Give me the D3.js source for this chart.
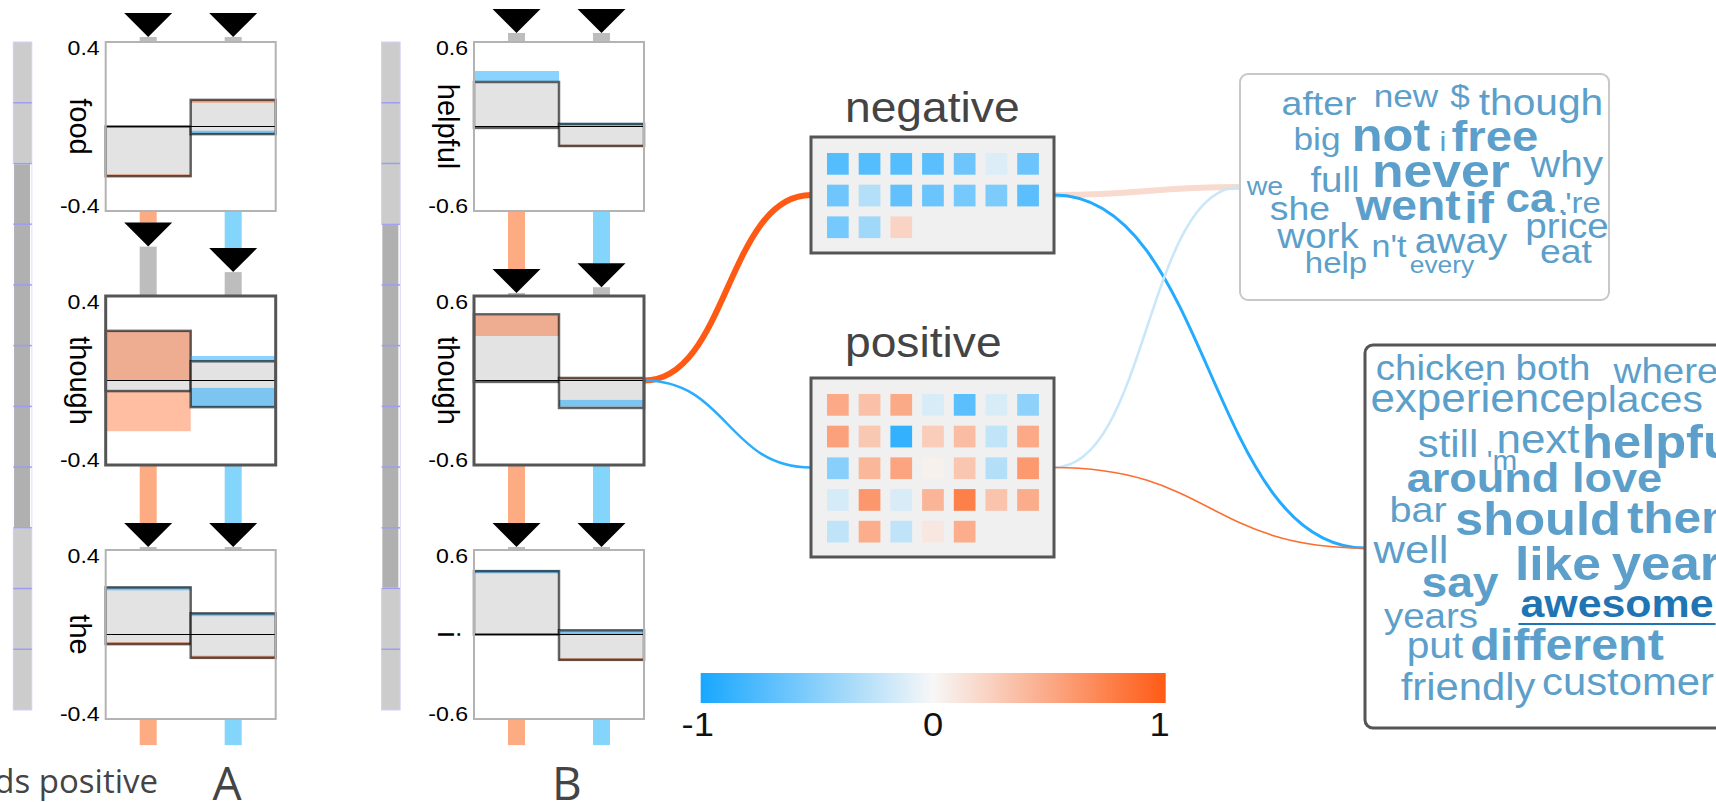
<!DOCTYPE html>
<html>
<head>
<meta charset="utf-8">
<script src="https://cdn.jsdelivr.net/npm/d3@7"></script>
<style>
    body { margin: 0; background: #fff; }
    svg { display: block; }
    text { font-family: "Liberation Sans", Arial, sans-serif; }
</style>
</head>
<body>
<svg id="wrapper"></svg>
<script>
// ---- data ----
const panels = ['A', 'B']
const panelWords = [['food', 'though', 'the'], ['helpful', 'though', 'i']]
const panelExtent = [0.4, 0.6]
const activeRow = 1
const sentenceLength = 11
const windowStart = [2, 3]
const windowSize = 6

// [lo, hi] of the grey bar, per panel / row / column
const barRanges = [
    [[[-0.235, 0], [-0.036, 0.126]], [[-0.05, 0.235], [-0.126, 0.091]], [[-0.045, 0.223], [-0.11, 0.1]]],
    [[[-0.01, 0.316], [-0.138, 0.018]], [[-0.01, 0.47], [-0.195, 0.018]], [[0, 0.45], [-0.18, 0.03]]],
]
// coloured bands [lo, hi, sign] (+1 orange, -1 blue)
const barBands = [
    [
        [[[-0.24, -0.226, 1]], [[0.112, 0.128, 1], [-0.038, -0.02, -1]]],
        [[[0, 0.235, 1], [-0.24, -0.05, 1]], [[0.091, 0.116, -1], [-0.126, -0.035, -1]]],
        [[[0.209, 0.226, -1], [-0.052, -0.036, 1]], [[0.087, 0.103, -1], [-0.117, -0.1, 1]]],
    ],
    [
        [[[0.322, 0.394, -1]], [[0.006, 0.026, -1], [-0.147, -0.13, 1]]],
        [[[0.316, 0.46, 1]], [[0.004, 0.022, 1], [-0.185, -0.138, -1]]],
        [[[0.434, 0.458, -1]], [[0, 0.028, -1], [-0.188, -0.168, 1]]],
    ],
]
// gate strength below each box (left, right)
const gateValues = [
    [[0.2, 0.64], [1, 1], [0.45, 0.45]],
    [[1, 0.9], [1, 1], [0.45, 0.45]],
]
const topGap = [5, 9]

const clusterNames = ['negative', 'positive']
const negativeCells = [
    -0.73, -0.73, -0.73, -0.70, -0.62, -0.12, -0.63,
    -0.61, -0.30, -0.67, -0.63, -0.58, -0.55, -0.70,
    -0.58, -0.39, 0.22,
]
const positiveCells = [
    0.50, 0.35, 0.49, -0.14, -0.70, -0.14, -0.47,
    0.54, 0.30, -0.875, 0.27, 0.37, -0.24, 0.50,
    -0.50, 0.41, 0.53, 0.04, 0.31, -0.30, 0.60,
    -0.15, 0.61, -0.14, 0.42, 0.76, 0.33, 0.48,
    -0.25, 0.47, -0.25, 0.10, 0.47,
]
const colorTicks = [-1, 0, 1]

// links: value drives colour
const links = [
    { from: 'word', to: 'negative', value: 1.0, width: 6 },
    { from: 'word', to: 'positive', value: -0.92, width: 2.5 },
    { from: 'negative', to: 'cloudNeg', value: 0.18, width: 6 },
    { from: 'negative', to: 'cloudPos', value: -0.95, width: 3 },
    { from: 'positive', to: 'cloudNeg', value: -0.2, width: 2.5 },
    { from: 'positive', to: 'cloudPos', value: 0.88, width: 1.6 },
]

const negWords = ['after', 'new', '$', 'though', 'big', 'not', 'i', 'free', 'never', 'why', 'full', 'we', 'she',
    'went', 'if', 'ca', '.', "'re", 'price', 'work', "n't", 'away', 'eat', 'help', 'every']
const negSizes = [34, 32, 32, 37, 32, 46, 28, 43, 47, 37, 35, 26, 34, 42, 44, 40, 28, 30, 35, 35, 31, 36, 34, 30, 24]
const negBold = ['not', 'free', 'never', 'went', 'if', 'ca']

const posWords = ['chicken', 'both', 'where', 'experience', 'places', 'still', "'m", 'next', 'helpful', 'around',
    'love', 'bar', 'should', 'them', 'well', 'like', 'year', 'say', 'awesome', 'years', 'put', 'different',
    'friendly', 'customer']
const posSizes = [35, 35, 35, 40, 37, 38, 27, 40, 46, 41, 41, 36, 46, 45, 39.5, 47, 48, 42, 39, 35, 37, 44, 38, 38]
const posBold = ['helpful', 'around', 'love', 'should', 'them', 'like', 'year', 'say', 'awesome', 'different']
const highlightWord = 'awesome'

// ---- layout ----
const dimensions = { width: 1716, height: 802 }
const stretch = 1.1
const panelShift = 368.3
const box = { left: 105.7, width: 170, height: 169 }
const stem = { width: 17, tri: 48, triH: 24 }

// word cloud placements (centre x, baseline) relative to each cloud box
const negLayout = [[79, 41], [166, 33], [220, 33], [301, 41], [77, 76], [151, 77], [203, 77], [255, 77],
    [201, 113], [327, 103], [95, 118], [25, 121], [60, 146], [168, 146], [239, 149], [290, 138], [322, 139],
    [343, 139], [327, 164], [78, 174], [149, 183], [221, 179], [326, 189], [96, 199], [202, 199]]
const posLayout = [[76, 35], [188, 35], [301, 38], [113, 67], [279, 67], [83, 112], [137, 125], [173, 108],
    [300, 113], [118, 147], [252, 147], [53, 177], [173, 190], [321, 188], [46, 218], [193, 235], [301, 235],
    [95, 252], [252, 272], [66, 283], [70, 313], [202, 315], [103, 355], [263, 350]]

const svg = d3.select('#wrapper')
    .attr('width', dimensions.width)
    .attr('height', dimensions.height)

const color = d3.scaleLinear()
    .domain([-1, 0, 1])
    .range(['#18a7ff', '#f7f7f7', '#ff5a14'])

// plain hyphen instead of d3's unicode minus, as in the figure
const fmt1 = v => d3.format('.1f')(v).replace('\u2212', '-')
const fmt0 = v => d3.format('d')(v).replace('\u2212', '-')

const addText = (sel, x, y, txt, size) => sel.append('text')
    .attr('transform', `translate(${x},${y}) scale(${stretch},1)`)
    .attr('font-size', size)
    .text(txt)

// node anchor points (box sides)
const matrixBox = {
    negative: { x: 811, y: 137, w: 243, h: 116, rows: 3, titleY: 122 },
    positive: { x: 811, y: 378, w: 243, h: 179, rows: 5, titleY: 357 },
}
const cloudBox = {
    cloudNeg: { x: 1240, y: 74, w: 369, h: 226, stroke: '#c8c8c8', sw: 2, anchorY: 187 },
    cloudPos: { x: 1365, y: 345, w: 400, h: 383, stroke: '#555', sw: 3, anchorY: 548 },
}
const rowTop = d3.scaleLinear().domain([0, 2]).range([42, 550])
const activeBoxRight = box.left + panelShift + box.width
const activeBoxMid = rowTop(activeRow) + box.height / 2

const anchorOut = name => name === 'word'
    ? [activeBoxRight, activeBoxMid]
    : [matrixBox[name].x + matrixBox[name].w, matrixBox[name].y + matrixBox[name].h / 2]
const anchorIn = name => matrixBox[name]
    ? [matrixBox[name].x, matrixBox[name].y + matrixBox[name].h / 2]
    : [cloudBox[name].x, cloudBox[name].anchorY]

// 1. links
const linkGen = d3.linkHorizontal()
svg.append('g').attr('class', 'links')
    .selectAll('path')
    .data(links)
    .join('path')
    .attr('d', d => linkGen({ source: anchorOut(d.from), target: anchorIn(d.to) }))
    .attr('fill', 'none')
    .attr('stroke', d => color(d.value))
    .attr('stroke-width', d => d.width)

// 2. sentence panels
const gateScale = d3.scaleLinear().domain([0, 1]).range([0, 58])
const stemColors = ['#fdab82', '#84d5fb']

panels.forEach((name, p) => {
    const px = p * panelShift
    const boxX = box.left + px
    const ext = panelExtent[p]
    const panel = svg.append('g').attr('class', 'panel')
    const colScale = d3.scaleBand().domain([0, 1]).range([boxX, boxX + box.width])
    const cx = c => colScale(c) + colScale.bandwidth() / 2

    // scroll bar of the sentence
    const sb = d3.scaleLinear().domain([0, sentenceLength]).range([42, 710])
    const sbX = 13.3 + px, sbW = 18.5
    panel.append('rect')
        .attr('x', sbX).attr('y', sb(0))
        .attr('width', sbW).attr('height', sb(sentenceLength) - sb(0))
        .attr('fill', '#cccccc').attr('stroke', '#cfcfff').attr('stroke-width', 1)
    panel.append('rect')
        .attr('x', sbX).attr('y', sb(windowStart[p]))
        .attr('width', sbW - 1).attr('height', sb(windowStart[p] + windowSize) - sb(windowStart[p]))
        .attr('fill', '#b0b0b0').attr('stroke', '#fff').attr('stroke-width', 1.5)
    panel.append('g').selectAll('line')
        .data(d3.range(1, sentenceLength))
        .join('line')
        .attr('x1', sbX).attr('x2', sbX + sbW)
        .attr('y1', d => sb(d)).attr('y2', d => sb(d))
        .attr('stroke', '#9d9df0').attr('stroke-width', 1.5)

    // stems and gate arrows
    const tri = (x, y) => `M${x - stem.tri / 2},${y}L${x + stem.tri / 2},${y}L${x},${y + stem.triH}Z`
    const stems = panel.append('g')
    const arrows = panel.append('g')
    ;[0, 1].forEach(c => {
        const x = cx(c) - stem.width / 2
        // above the first box
        const tip = rowTop(0) - topGap[p]
        stems.append('rect').attr('x', x).attr('y', tip).attr('width', stem.width)
            .attr('height', topGap[p]).attr('fill', '#bdbdbd')
        arrows.append('path').attr('d', tri(cx(c), tip - stem.triH)).attr('fill', '#000')
        gateValues[p].forEach((gv, r) => {
            const bottom = rowTop(r) + box.height
            const len = gateScale(gv[c])
            stems.append('rect').attr('x', x).attr('y', bottom).attr('width', stem.width)
                .attr('height', len).attr('fill', stemColors[c])
            if (r < 2) {
                const triTop = bottom + len
                arrows.append('path').attr('d', tri(cx(c), triTop)).attr('fill', '#000')
                stems.append('rect').attr('x', x).attr('y', triTop + stem.triH).attr('width', stem.width)
                    .attr('height', rowTop(r + 1) - triTop - stem.triH).attr('fill', '#bdbdbd')
            }
        })
    })

    // boxes
    panelWords[p].forEach((word, r) => {
        const top = rowTop(r)
        const bottom = top + box.height
        const y = d3.scaleLinear().domain([-ext, ext]).range([bottom, top])
        const g = panel.append('g')
        g.append('rect').attr('x', boxX).attr('y', top)
            .attr('width', box.width).attr('height', box.height).attr('fill', '#fff')
        ;[0, 1].forEach(c => {
            const [lo, hi] = barRanges[p][r][c]
            g.append('rect')
                .attr('x', colScale(c)).attr('y', y(hi))
                .attr('width', colScale.bandwidth()).attr('height', y(lo) - y(hi))
                .attr('fill', '#e3e3e3')
            g.selectAll(null)
                .data(barBands[p][r][c])
                .join('rect')
                .attr('x', colScale(c)).attr('y', d => y(d[1]))
                .attr('width', colScale.bandwidth()).attr('height', d => y(d[0]) - y(d[1]))
                .attr('fill', d => d[2] > 0 ? '#ff5a14' : '#18a7ff')
                .attr('fill-opacity', d => d[2] > 0 ? 0.4 : 0.5)
            g.append('rect')
                .attr('x', colScale(c)).attr('y', y(hi))
                .attr('width', colScale.bandwidth()).attr('height', y(lo) - y(hi))
                .attr('fill', 'none').attr('stroke', '#000')
                .attr('stroke-opacity', 0.6).attr('stroke-width', 2.5)
        })
        g.append('line')
            .attr('x1', boxX).attr('x2', boxX + box.width)
            .attr('y1', y(0)).attr('y2', y(0))
            .attr('stroke', '#000').attr('stroke-width', 1)
        const active = r === activeRow
        g.append('rect').attr('x', boxX).attr('y', top)
            .attr('width', box.width).attr('height', box.height)
            .attr('fill', 'none')
            .attr('stroke', active ? '#555' : '#b3b3b3')
            .attr('stroke-width', active ? 3 : 2)

        addText(g, boxX - 6, y(ext) + 13, fmt1(ext), 21).attr('text-anchor', 'end')
        addText(g, boxX - 6, y(-ext) + 2, fmt1(-ext), 21).attr('text-anchor', 'end')
        g.append('text')
            .attr('transform', `translate(${boxX - 36},${y(0)}) rotate(90)`)
            .attr('text-anchor', 'middle')
            .attr('font-size', 29)
            .text(word)
    })

    svg.append('text')
        .attr('x', 227 + px * 0.923).attr('y', 800)
        .attr('text-anchor', 'middle')
        .style('font-family', '"Open Sans", "Noto Sans", sans-serif')
        .attr('font-size', 46).attr('fill', '#444')
        .text(name)
})

svg.append('text')
    .attr('x', 158).attr('y', 793)
    .attr('text-anchor', 'end')
    .style('font-family', '"Open Sans", "Noto Sans", sans-serif')
    .attr('font-size', 33).attr('fill', '#444')
    .text('towards positive')

// 3. cluster matrices
const cellData = { negative: negativeCells, positive: positiveCells }
clusterNames.forEach(name => {
    const m = matrixBox[name]
    const g = svg.append('g')
    addText(g, 845, m.titleY, name, 42).attr('fill', '#444')
    g.append('rect').attr('x', m.x).attr('y', m.y).attr('width', m.w).attr('height', m.h)
        .attr('fill', '#f0f0f0').attr('stroke', '#555').attr('stroke-width', 3)
    const xs = d3.scaleBand().domain(d3.range(7)).range([m.x + 11, m.x + 11 + 7 * 31.7])
        .paddingInner(0.315).paddingOuter(0.1575)
    const ys = d3.scaleBand().domain(d3.range(m.rows)).range([m.y + 11, m.y + 11 + m.rows * 31.7])
        .paddingInner(0.315).paddingOuter(0.1575)
    g.selectAll('rect.cell')
        .data(cellData[name])
        .join('rect')
        .attr('class', 'cell')
        .attr('x', (d, i) => xs(i % 7))
        .attr('y', (d, i) => ys(Math.floor(i / 7)))
        .attr('width', xs.bandwidth()).attr('height', ys.bandwidth())
        .attr('fill', d => color(d))
})

// 4. colour legend
const cbScale = d3.scaleLinear().domain([-1, 1]).range([700.7, 1165.7])
const grad = svg.append('defs').append('linearGradient').attr('id', 'cb')
grad.selectAll('stop')
    .data(d3.range(-1, 1.01, 0.1))
    .join('stop')
    .attr('offset', d => `${(d + 1) * 50}%`)
    .attr('stop-color', d => color(d))
svg.append('rect')
    .attr('x', cbScale(-1)).attr('y', 673)
    .attr('width', cbScale(1) - cbScale(-1)).attr('height', 30)
    .attr('fill', 'url(#cb)')
colorTicks.forEach(t => {
    addText(svg, cbScale(t) - (t === 1 ? 6 : t === -1 ? 3 : 0), 736, fmt0(t), 33)
        .attr('text-anchor', 'middle').attr('fill', '#111')
})

// 5. word clouds
const drawCloud = (key, words, sizes, bold, layout) => {
    const b = cloudBox[key]
    const g = svg.append('g')
    g.append('rect').attr('x', b.x).attr('y', b.y).attr('width', b.w).attr('height', b.h)
        .attr('rx', 8).attr('fill', '#fff').attr('stroke', b.stroke).attr('stroke-width', b.sw)
    words.forEach((w, i) => {
        const t = addText(g, b.x + layout[i][0], b.y + layout[i][1], w, sizes[i])
            .attr('text-anchor', 'middle')
            .attr('font-weight', bold.includes(w) ? 'bold' : 'normal')
            .attr('fill', w === highlightWord && key === 'cloudPos' ? '#1f74b3' : '#5c9fca')
        if (w === highlightWord && key === 'cloudPos') {
            const bb = t.node().getBBox()
            const x0 = b.x + layout[i][0] + bb.x * stretch - 2
            g.append('line')
                .attr('x1', x0).attr('x2', x0 + bb.width * stretch + 4)
                .attr('y1', b.y + layout[i][1] + 7).attr('y2', b.y + layout[i][1] + 7)
                .attr('stroke', '#1f74b3').attr('stroke-width', 2)
        }
    })
}
drawCloud('cloudNeg', negWords, negSizes, negBold, negLayout)
drawCloud('cloudPos', posWords, posSizes, posBold, posLayout)
</script>
</body>
</html>
